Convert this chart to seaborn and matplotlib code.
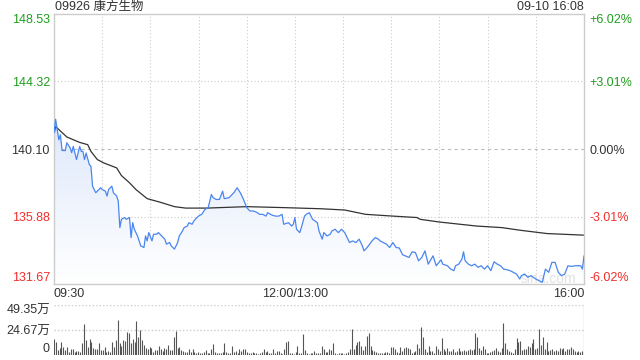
import matplotlib
matplotlib.use('Agg')
import matplotlib.pyplot as plt
import numpy as np
import pandas as pd
import seaborn as sns
from matplotlib.colors import LinearSegmentedColormap

# price line (minutes after 09:30, 12:00/13:00 break removed)
price_min = [0, 1, 3, 4, 5, 7, 8, 10, 11, 12, 14, 15, 16, 17, 18, 19, 20, 22, 23, 24,
             26, 28, 29, 30, 32, 33, 34, 36, 37, 39, 40, 41, 42, 44, 45, 47, 48, 49, 50, 52,
             54, 56, 57, 58, 59, 61, 62, 64, 65, 67, 69, 70, 72, 73, 75, 77, 78, 80, 81, 83,
             84, 86, 87, 89, 90, 92, 94, 96, 98, 99, 101, 103, 105, 106, 109, 112, 114, 116, 118, 120,
             122, 124, 126, 128, 130, 132, 133, 136, 138, 140, 142, 143, 146, 148, 149, 150, 151, 153, 154, 156,
             157, 159, 160, 161, 164, 165, 167, 168, 170, 172, 173, 175, 177, 179, 181, 183, 184, 186, 188, 190,
             192, 193, 195, 198, 200, 202, 203, 205, 207, 209, 211, 213, 215, 217, 221, 223, 225, 227, 229, 231,
             233, 236, 238, 241, 242, 245, 247, 249, 250, 252, 254, 255, 256, 258, 260, 262, 264, 266, 268, 270,
             272, 274, 276, 278, 280, 282, 284, 286, 288, 290, 291, 293, 295, 297, 300, 302, 304, 306, 308, 310,
             312, 314, 316, 318, 320, 322, 325, 328, 329, 330]
price_val = [141.10, 141.96, 140.68, 140.99, 140.01, 140.00, 140.49, 140.18, 139.87, 140.26,
             139.44, 139.85, 140.26, 139.95, 139.95, 139.44, 139.85, 139.13, 139.02, 137.78,
             137.37, 137.57, 137.68, 137.57, 137.47, 137.16, 137.57, 137.78, 137.37, 137.16,
             136.85, 135.19, 135.71, 135.82, 135.71, 135.82, 134.57, 135.50, 135.09, 134.67,
             134.05, 133.95, 134.67, 134.36, 134.88, 134.36, 134.78, 134.78, 134.88, 134.67,
             134.47, 134.16, 134.26, 134.05, 133.85, 134.26, 134.67, 134.98, 135.19, 135.29,
             135.50, 135.40, 135.60, 135.82, 135.91, 136.02, 136.33, 136.44, 137.26, 137.06,
             136.95, 136.95, 137.47, 137.00, 137.06, 137.37, 137.68, 137.37, 136.95, 136.44,
             136.23, 136.23, 136.16, 136.02, 136.02, 135.91, 136.12, 135.96, 135.91, 135.91,
             136.02, 135.40, 135.50, 135.29, 135.40, 135.82, 135.09, 134.88, 135.19, 135.91,
             136.02, 136.12, 135.91, 135.71, 135.50, 134.98, 134.47, 134.88, 134.67, 134.78,
             134.98, 135.09, 134.88, 135.09, 134.88, 134.47, 134.26, 134.36, 134.26, 134.47,
             134.05, 133.74, 133.95, 134.36, 134.57, 134.47, 134.36, 134.26, 134.16, 133.95,
             134.26, 133.95, 133.92, 133.50, 133.33, 133.68, 133.64, 133.12, 133.33, 133.74,
             132.91, 133.43, 132.81, 133.18, 132.91, 132.81, 132.60, 132.50, 132.81, 132.91,
             133.23, 133.68, 133.12, 132.91, 132.81, 132.91, 132.71, 132.81, 132.60, 132.81,
             132.50, 133.06, 132.91, 132.81, 132.60, 132.56, 132.50, 132.40, 132.29, 131.98,
             132.19, 132.29, 132.09, 132.19, 131.98, 131.88, 131.78, 132.60, 132.40, 133.02,
             133.02, 132.40, 132.19, 132.29, 132.81, 132.77, 132.81, 132.81, 132.60, 133.43]

# average price line
avg_min = [0, 1, 8, 16, 21, 23, 27, 31, 39, 42, 47, 51, 58, 66, 75, 82, 95, 120, 143, 166,
           181, 194, 211, 226, 228, 240, 263, 279, 290, 307, 330]
avg_val = [140.99, 141.50, 140.85, 140.51, 140.37, 139.95, 139.44, 139.23, 138.92, 138.44,
           137.99, 137.57, 137.00, 136.78, 136.50, 136.41, 136.41, 136.50, 136.44, 136.37,
           136.29, 136.02, 135.91, 135.82, 135.71, 135.54, 135.29, 135.19, 135.03, 134.82, 134.72]

# volume per bar, in 万 shares
volume = [15.5, 13.2, 4.9, 6.6, 12.8, 8.2, 4.9, 7.6, 3.3, 5.9, 5.6, 3.3, 3.9, 3.9, 3.3, 11.5,
          30.6, 14.8, 8.2, 15.5, 13.2, 6.6, 5.6, 5.6, 11.5, 4.9, 4.9, 7.6, 3.3, 4.3, 3.3, 12.5,
          8.2, 14.8, 34.5, 11.5, 8.9, 14.8, 14.1, 22.7, 21.4, 11.5, 15.5, 12.8, 33.6, 18.1, 24.7,
          14.8, 9.9, 6.6, 5.6, 8.2, 6.6, 2.6, 4.9, 4.9, 8.9, 5.6, 4.3, 6.6, 5.6, 9.9, 4.9, 4.9,
          18.1, 23.7, 6.6, 8.2, 4.9, 4.3, 2.6, 3.3, 5.6, 3.3, 5.6, 3.3, 1.6, 3.3, 2.3, 2.3, 3.3,
          4.9, 2.3, 1.6, 5.6, 10.9, 3.3, 1.6, 2.3, 1.6, 3.3, 11.5, 3.3, 1.6, 2.3,
          8.9, 3.3, 4.3, 1.6, 5.6, 4.3, 5.6, 5.9, 3.3, 2.3, 2.3, 3.3, 1.6, 2.3, 1.0, 2.3, 3.3,
          5.6, 3.3, 4.3, 1.6, 1.6, 5.6, 1.6, 4.3, 4.3, 1.6, 1.0, 5.6, 13.2, 14.1, 1.6, 2.3, 1.0,
          3.3, 8.9, 1.6, 2.3, 20.7, 4.9, 1.6, 1.0, 2.3, 1.6, 4.3, 1.6, 2.3, 1.6, 8.9, 5.6, 3.3,
          3.3, 5.6, 4.9, 11.5, 2.3, 1.0, 1.6, 1.6, 1.6, 1.0, 2.3, 3.3, 5.6, 26.0, 5.6, 9.9, 13.2,
          14.1, 8.9, 4.9, 8.9, 18.8, 22.0, 8.9, 4.9, 4.3, 3.3, 1.6, 2.3, 1.6, 2.3, 3.3, 3.3, 2.3,
          7.6, 7.6, 5.6, 3.3, 2.3, 7.6, 4.3, 6.6,
          8.2, 6.6, 5.6, 2.3, 3.3, 4.3, 10.9, 6.6, 28.0, 18.1, 5.6, 3.3, 8.9, 4.3, 4.3, 2.3, 8.9,
          5.6, 4.3, 16.8, 5.6, 4.3, 6.6, 4.3, 4.3, 5.6, 3.3, 4.3, 6.6, 4.3, 4.3, 4.9, 4.3, 4.9,
          5.6, 4.9, 5.6, 22.0, 18.1, 6.6, 4.9, 8.9, 5.6, 2.3, 1.6, 3.3, 4.3, 4.9, 6.6, 4.3, 3.3,
          6.6, 31.9, 12.2, 5.6, 4.3, 3.3, 1.6, 5.6, 16.8, 13.2, 14.1, 4.9, 5.6, 5.6, 8.9, 7.6,
          12.2, 15.5, 5.6, 6.6, 25.3, 9.9, 18.1, 5.6, 13.2, 4.3, 4.9, 5.6, 4.3, 4.9, 4.3, 6.6,
          5.6, 6.6, 4.3, 5.6, 5.6, 7.6, 5.6, 4.3, 3.3, 4.3, 3.3, 4.3, 49.35]

prev_close = 140.10
price_ticks = [131.67, 135.88, 140.10, 144.32, 148.53]
pct_labels = ['-6.02%', '-3.01%', '0.00%', '+3.01%', '+6.02%']
tick_colors = ['#f0302c', '#f0302c', '#333333', '#1e9e1e', '#1e9e1e']
vol_ticks = [0, 24.67, 49.35]
vol_labels = ['0', '24.67万', '49.35万']
x_ticks = [0, 150, 330]
x_labels = ['09:30', '12:00/13:00', '16:00']

sns.set_style('white')
plt.rcParams['font.family'] = ['Liberation Sans', 'Noto Sans CJK SC', 'DejaVu Sans']
plt.rcParams['font.size'] = 9

df_price = pd.DataFrame({'minute': price_min, 'price': price_val})
df_avg = pd.DataFrame({'minute': avg_min, 'price': avg_val})

fig = plt.figure(figsize=(6.4, 3.6), dpi=100)
ax = fig.add_axes([54 / 640, 76 / 360, 530 / 640, 270 / 360])
axv = fig.add_axes([54 / 640, 5 / 360, 530 / 640, 50 / 360])

ymin, ymax = price_ticks[0], price_ticks[-1]

# gradient fill under the price line
poly = ax.fill_between(price_min, price_val, ymin, color='none', lw=0)
cmap = LinearSegmentedColormap.from_list('fade', ['#ffffff', '#dde8fb'])
grad = np.linspace(0, 1, 256).reshape(-1, 1)
img = ax.imshow(grad, extent=[0, 330, ymin, 142.2], origin='lower', aspect='auto',
                cmap=cmap, zorder=1)
img.set_clip_path(poly.get_paths()[0], transform=ax.transData)

# grid
for m in range(30, 330, 30):
    ax.axvline(m, color='#cccccc', lw=0.8, ls=(0, (1, 2)), zorder=0)
for p in [135.88, 144.32]:
    ax.axhline(p, color='#cccccc', lw=0.8, ls=(0, (1, 2)), zorder=0)
ax.axhline(prev_close, color='#bbbbbb', lw=0.8, ls=(0, (3, 3)), zorder=0)

sns.lineplot(data=df_price, x='minute', y='price', ax=ax, color='#4a86f0', lw=0.9, zorder=3)
sns.lineplot(data=df_avg, x='minute', y='price', ax=ax, color='#333333', lw=0.9, zorder=2)

ax.set_xlim(0, 330)
ax.set_ylim(ymin, ymax)
ax.set_xlabel('')
ax.set_ylabel('')
for s in ax.spines.values():
    s.set_color('#cccccc')
    s.set_linewidth(1)

ax.set_yticks(price_ticks)
ax.set_yticklabels(['%.2f' % p for p in price_ticks])
ax.tick_params(axis='y', length=0, pad=3)
for lbl, c in zip(ax.get_yticklabels(), tick_colors):
    lbl.set_color(c)
ax.get_yticklabels()[0].set_va('bottom')
ax.get_yticklabels()[-1].set_va('top')

ax.set_xticks(x_ticks)
ax.set_xticklabels(x_labels, color='#333333')
ax.tick_params(axis='x', length=0, pad=3)
for lbl, ha in zip(ax.get_xticklabels(), ['left', 'center', 'right']):
    lbl.set_ha(ha)

axr = ax.twinx()
axr.set_ylim(ymin, ymax)
axr.set_yticks(price_ticks)
axr.set_yticklabels(pct_labels)
axr.tick_params(axis='y', length=0, pad=4)
for lbl, c in zip(axr.get_yticklabels(), tick_colors):
    lbl.set_color(c)
axr.get_yticklabels()[0].set_va('bottom')
axr.get_yticklabels()[-1].set_va('top')
for s in axr.spines.values():
    s.set_visible(False)

ax.text(325, 132.0, 'sina.com', color='#e2e2e2', fontsize=10, ha='right', va='center', zorder=1)

# volume panel
vol_x = np.linspace(0, 330, len(volume))
axv.vlines(vol_x, 0, volume, color='#555555', lw=0.8)
for v in vol_ticks[1:]:
    axv.axhline(v, color='#cccccc', lw=1, ls=(0, (1, 1.5)), zorder=0)
axv.set_xlim(0, 330)
axv.set_ylim(0, 49.35)
axv.set_xticks([])
axv.set_yticks(vol_ticks)
axv.set_yticklabels(vol_labels, color='#333333')
axv.tick_params(axis='y', length=0, pad=3)
axv.get_yticklabels()[0].set_va('bottom')
axv.get_yticklabels()[-1].set_va('top')
for s in axv.spines.values():
    s.set_visible(False)

fig.text(55 / 640, 1 - 7 / 360, '09926 康方生物', color='#333333', ha='left', va='center')
fig.text(584 / 640, 1 - 7 / 360, '09-10 16:08', color='#333333', ha='right', va='center')

fig.savefig('out.png', dpi=100)
